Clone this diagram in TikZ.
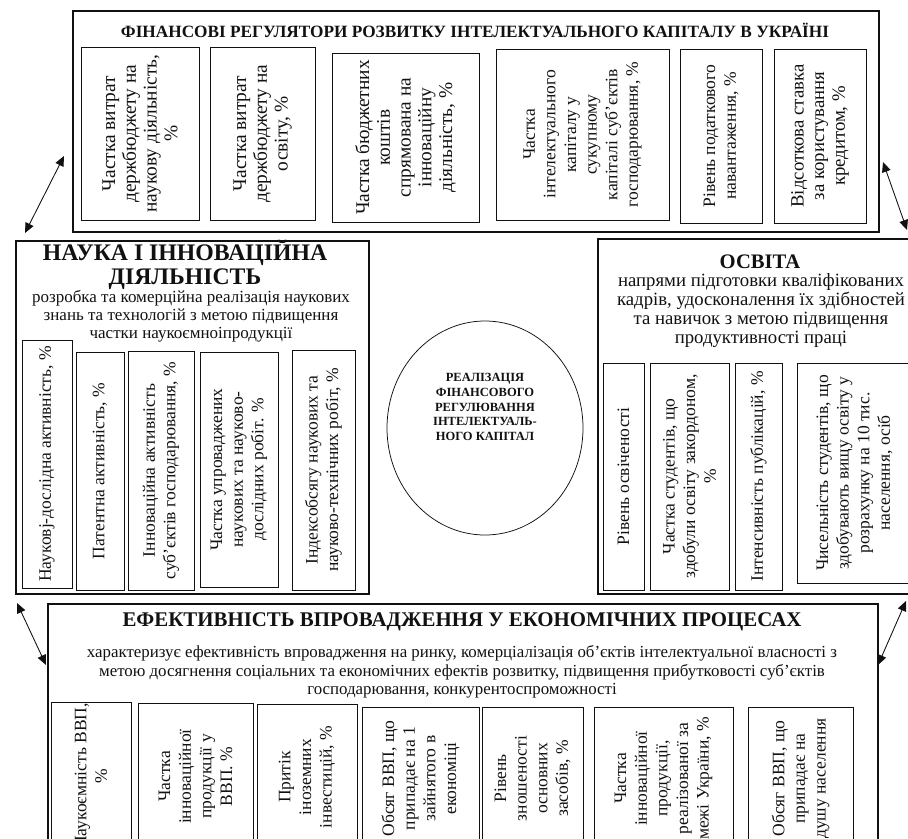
\documentclass[tikz,border=0pt]{standalone}
\usepackage{fontspec}
\setmainfont{Liberation Serif}
\usepackage{xcolor}
\usetikzlibrary{arrows.meta,positioning,calc,shapes.geometric}
\definecolor{Ink}{HTML}{111111}
\newdimen\pxu \pxu=0.8pt
\newcommand{\fsz}[2]{\fontsize{#1}{#2}\selectfont}
\tikzset{
  panel/.style={draw=Ink,line width=1.2pt,inner sep=0pt,anchor=north west},
  vcell/.style 2 args={draw=Ink,line width=0.7pt,rotate=90,align=center,inner sep=1pt,minimum width=#2\pxu,minimum height=#1\pxu,font=\fsz{14}{16.5},text=Ink},
  bigcell/.style={font=\fsz{15.5}{16.6}},
  headbig/.style={align=center,font=\fsz{19}{19.5}\bfseries,text=Ink,inner sep=0pt},
  headsmall/.style={align=center,font=\fsz{13.8}{15}\bfseries,text=Ink,inner sep=0pt},
  desc/.style={align=center,font=\fsz{13.6}{14.3},text=Ink,inner sep=0pt},
  core/.style={draw=Ink,ellipse,line width=0.6pt,minimum width=196\pxu,minimum height=214\pxu,inner sep=0pt},
  corelbl/.style={align=center,font=\fsz{10}{11.8}\bfseries,text=Ink,inner sep=0pt},
  twoway/.style={{Triangle[length=8pt,width=7pt]}-{Triangle[length=8pt,width=7pt]},draw=Ink,line width=0.7pt}
}

\begin{document}
\begin{tikzpicture}[x=\pxu,y=-\pxu]
  \useasboundingbox (0,0) rectangle (908,838);
  % financial regulators
  \node[panel,minimum width=806\pxu,minimum height=221\pxu] (fin) at (72,10) {};
  \node[headsmall] (fin-t) at (475,30) {ФІНАНСОВІ РЕГУЛЯТОРИ РОЗВИТКУ ІНТЕЛЕКТУАЛЬНОГО КАПІТАЛУ В УКРАЇНІ};
  \node[vcell={118}{173},bigcell] (f1) at (140,133.5) {Частка витрат\\держбюджету на\\наукову діяльність,\\\%};
  \node[vcell={105}{173},bigcell] (f2) at (262.5,133.5) {Частка витрат\\держбюджету на\\освіту, \%};
  \node[vcell={147}{169},bigcell] (f3) at (405.5,137.5) {Частка бюджетних\\коштів\\спрямована на\\інноваційну\\діяльність, \%};
  \node[vcell={173}{171}] (f4) at (582.5,134.5) {Частка\\інтелектуального\\капіталу у\\сукупному\\капіталі суб’єктів\\господарювання, \%};
  \node[vcell={82}{174}] (f5) at (721,136) {Рівень податкового\\навантаження, \%};
  \node[vcell={92}{174},font=\fsz{15}{16.5}] (f6) at (820,136) {Відсоткова ставка\\за користування\\кредитом, \%};

  % science
  \node[panel,minimum width=353\pxu,minimum height=353\pxu] (nauka) at (15,240) {};
  \node[headbig] (nauka-t) at (185,265) {НАУКА І ІННОВАЦІЙНА\\ДІЯЛЬНІСТЬ};
  \node[desc] (nauka-d) at (191,316) {розробка та комерційна реалізація наукових\\знань та технологій з метою підвищення\\частки наукоємноіпродукції};
  \node[vcell={50}{248}] (n1) at (47,464) {Науковj-дослідна активність, \%};
  \node[vcell={48}{238}] (n2) at (100,471) {Патентна активність, \%};
  \node[vcell={66}{239}] (n3) at (161,470.5) {Інноваційна активність\\суб’єктів господарювання, \%};
  \node[vcell={78}{235}] (n4) at (239,469.5) {Частка упроваджених\\наукових та науково-\\дослідних робіт. \%};
  \node[vcell={63}{240}] (n5) at (323.5,470) {Індексобсягу наукових та\\науково-технічних робіт, \%};

  % education
  \node[panel,minimum width=326\pxu,minimum height=355\pxu] (osvita) at (597,238) {};
  \node[headbig,font=\fsz{16.5}{18}\bfseries] (osvita-t) at (760,262) {ОСВІТА};
  \node[desc,font=\fsz{15}{15.2}] (osvita-d) at (761,311) {напрями підготовки кваліфікованих\\кадрів, удосконалення їх здібностей\\та навичок з метою підвищення\\продуктивності праці};
  \node[vcell={41}{227}] (o1) at (623.5,476.5) {Рівень освіченості};
  \node[vcell={79}{227}] (o2) at (689.5,476.5) {Частка студентів, що\\здобули освіту закордоном,\\\%};
  \node[vcell={47}{227}] (o3) at (758.5,476.5) {Інтенсивність публікацій, \%};
  \node[vcell={115}{220}] (o4) at (854.5,473) {Чисельність студентів, що\\здобувають вищу освіту у\\розрахунку на 10 тис.\\населення, осіб};

  % centre
  \node[core] (core) at (485,428) {};
  \node[corelbl] (core-t) at (485,407) {РЕАЛІЗАЦІЯ\\ФІНАНСОВОГО\\РЕГУЛЮВАННЯ\\ІНТЕЛЕКТУАЛЬ-\\НОГО КАПІТАЛ};

  % efficiency
  \node[panel,minimum width=830\pxu,minimum height=250\pxu] (efekt) at (47,603) {};
  \node[headbig,font=\fsz{16.7}{19}\bfseries] (efekt-t) at (462,622) {ЕФЕКТИВНІСТЬ ВПРОВАДЖЕННЯ У ЕКОНОМІЧНИХ ПРОЦЕСАХ};
  \node[desc,font=\fsz{13.5}{14.8}] (efekt-d) at (462,672) {характеризує ефективність впровадження на ринку, комерціалізація об’єктів інтелектуальної власності з\\метою досягнення соціальних та економічних ефектів розвитку, підвищення прибутковості суб’єктів\\господарювання, конкурентоспроможності};
  \node[vcell={80}{148}] (e1) at (91,776) {Наукоємність ВВП,\\\%};
  \node[vcell={115}{147}] (e2) at (195.5,776.5) {Частка\\інноваційної\\продукції у\\ВВП. \%};
  \node[vcell={100}{146}] (e3) at (307,777) {Притік\\іноземних\\інвестицій, \%};
  \node[vcell={117}{143}] (e4) at (420.5,778.5) {Обсяг ВВП, що\\припадає на 1\\зайнятого в\\економіці};
  \node[vcell={101}{143}] (e5) at (532.5,778.5) {Рівень\\зношеності\\основних\\засобів, \%};
  \node[vcell={139}{143}] (e6) at (663.5,778.5) {Частка\\інноваційної\\продукції,\\реалізованої за\\межі України, \%};
  \node[vcell={105}{143}] (e7) at (800.5,778.5) {Обсяг ВВП, що\\припадає на\\душу населення};

  % links
  \coordinate (fin-l) at (64,156);
  \coordinate (nauka-n) at (25,233);
  \coordinate (fin-r) at (883,162);
  \coordinate (osvita-n) at (907,230);
  \coordinate (nauka-s) at (17,603);
  \coordinate (efekt-l) at (46,665);
  \coordinate (osvita-s) at (906,601);
  \coordinate (efekt-r) at (878,665);
  \draw[twoway] (fin-l) -- (nauka-n);
  \draw[twoway] (fin-r) -- (osvita-n);
  \draw[twoway] (nauka-s) -- (efekt-l);
  \draw[twoway] (osvita-s) -- (efekt-r);
\end{tikzpicture}
\end{document}
